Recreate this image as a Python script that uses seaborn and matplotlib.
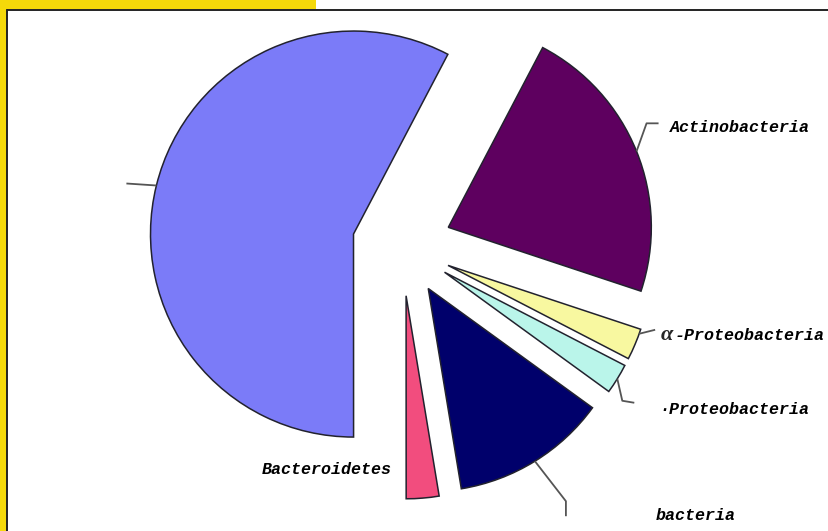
import numpy as np
import matplotlib
matplotlib.use("Agg")
import matplotlib.pyplot as plt
from matplotlib.patches import Rectangle
from matplotlib.lines import Line2D
import seaborn as sns

# ── Data (percent of clones, counter-clockwise from the upper cut) ─────────
groups = ["", "Bacteroidetes", "bacteria", "\u00b7Proteobacteria",
          "\u03b1-Proteobacteria", "Actinobacteria"]
shares = [57.7, 2.6, 12.4, 2.4, 2.5, 22.4]
colors = ["#7B7BF8", "#F24D7E", "#00006B", "#BAF5EA", "#F8F8A0", "#5E005F"]

# ── Style ──────────────────────────────────────────────────────────────────
sns.set_theme(style="white")
plt.rcParams["font.family"] = ["Liberation Mono", "DejaVu Sans"]

W, H = 829, 531
CX, CY, R = 402, 246, 203        # pie centre / radius in pixels
FRAME = "#F5D90A"

fig = plt.figure(figsize=(W / 100, H / 100), dpi=100)
fig.patch.set_facecolor("white")

# yellow slide background and the black frame of the chart box
fig.add_artist(Rectangle((0, 1 - 9 / H), 316 / W, 9 / H, transform=fig.transFigure,
                         color=FRAME, lw=0))
fig.add_artist(Rectangle((0, 0), 7 / W, 1, transform=fig.transFigure,
                         color=FRAME, lw=0))
fig.add_artist(Line2D([7.5 / W, 1], [1 - 9.5 / H, 1 - 9.5 / H], transform=fig.transFigure,
                      color="#222222", lw=1.4))
fig.add_artist(Line2D([7.5 / W, 7.5 / W], [0, 1 - 9.5 / H], transform=fig.transFigure,
                      color="#222222", lw=1.4))

ax = fig.add_axes([0, 0, 1, 1])
ax.set_axis_off()

wedges, _ = ax.pie(shares, colors=colors, startangle=62.3, counterclock=True,
                   explode=[0.246] * len(shares), radius=1,
                   wedgeprops={"edgecolor": "#22222e", "linewidth": 1.1})
ax.set_xlim(-CX / R, (W - CX) / R)
ax.set_ylim(-(H - CY) / R, CY / R)
ax.set_aspect("auto")

# where on the arc the leader starts (fraction of the wedge angle),
# leader segments (pixel offsets, y up) and label offset from the leader end
anchor = [0.5, 0.5, 0.5, 0.5, 0.85, 0.5]
leaders = [
    [(-30, 2)],
    [],
    [(31, -40), (0, -15)],
    [(5, -22), (12, -2)],
    [(16, 4)],
    [(10, 28), (12, 0)],
]
text_off = [None, (-31, 24), (90, -4), (25, -11), (6, -10), (11, -9)]

mono = dict(family=["Liberation Mono", "DejaVu Sans"], fontsize=12,
            fontweight="bold", fontstyle="italic", color="black")

for w, name, frac, segs, off in zip(wedges, groups, anchor, leaders, text_off):
    ang = np.deg2rad(w.theta1 + frac * (w.theta2 - w.theta1))
    x0 = w.center[0] + w.r * np.cos(ang)
    y0 = w.center[1] + w.r * np.sin(ang)
    xs, ys = [x0], [y0]
    for dx, dy in segs:
        xs.append(xs[-1] + dx / R)
        ys.append(ys[-1] + dy / R)
    if len(xs) > 1:
        ax.plot(xs, ys, color="#555555", lw=1.3, solid_capstyle="butt")
    if off is None or not name:
        continue
    tx, ty = xs[-1] + off[0] / R, ys[-1] + off[1] / R
    if name.startswith("\u03b1"):
        ax.text(tx, ty, "\u03b1", ha="left", va="baseline",
                family=["Liberation Serif", "DejaVu Serif"], fontsize=16,
                fontweight="bold", fontstyle="italic")
        ax.text(tx + 13 / R, ty, name[1:], ha="left", va="baseline", **mono)
    elif name == "Bacteroidetes":
        ax.text(tx, ty, name, ha="right", va="baseline", **mono)
    else:
        ax.text(tx, ty, name, ha="left", va="baseline", **mono)

fig.savefig("out.png", dpi=100)
